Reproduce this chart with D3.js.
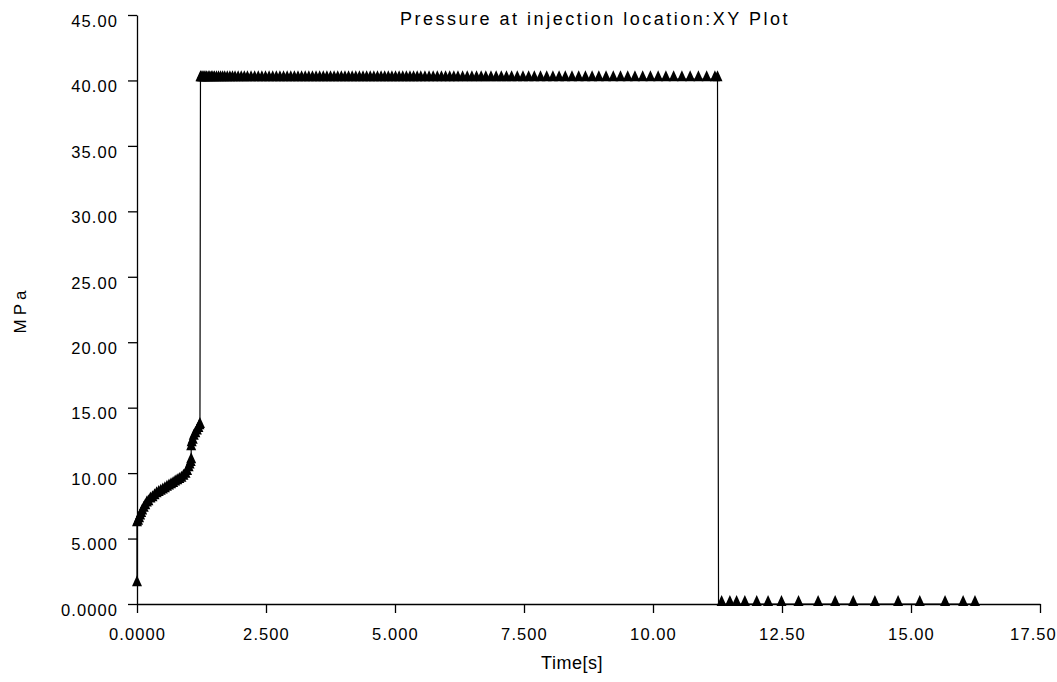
<!DOCTYPE html>
<html>
    <head>
        <meta charset="utf-8">
        <title>Pressure at injection location:XY Plot</title>
        <style>
            body { margin: 0; background: #fff; }
            text { font-family: 'Liberation Sans', Arial, sans-serif; fill: #000; }
            .tick text { font-size: 16.5px; letter-spacing: 1.1px; }
        </style>
        <script src="https://d3js.org/d3.v7.min.js"></script>
    </head>
    <body>
        <div id="chart"></div>
        <script>
            // filling ramp before switch-over
            var fillTimes = [0.00, 0.00, 0.02, 0.04, 0.06, 0.08, 0.10, 0.13, 0.16, 0.19, 0.22, 0.26, 0.30, 0.34, 0.38, 0.42, 0.46, 0.50, 0.54, 0.58, 0.62, 0.66, 0.70, 0.74, 0.78, 0.82, 0.86, 0.90, 0.94, 0.97, 1.00, 1.02, 1.04,
                             1.05, 1.05, 1.06, 1.08, 1.10, 1.13, 1.16, 1.19, 1.21, 1.22];
            var fillPressure = [1.5, 6.1, 6.2, 6.4, 6.6, 6.8, 7.0, 7.2, 7.4, 7.6, 7.7, 7.9, 8.0, 8.15, 8.3, 8.4, 8.5, 8.6, 8.7, 8.8, 8.9, 9.0, 9.1, 9.2, 9.3, 9.4, 9.5, 9.65, 9.8, 10.0, 10.3, 10.5, 10.7,
                                10.9, 11.9, 12.2, 12.4, 12.7, 12.9, 13.1, 13.3, 13.5, 13.6];
            // packing / holding plateau
            var holdTimes = [1.23, 1.24, 1.26, 1.28, 1.30, 1.32, 1.35, 1.38, 1.41, 1.44, 1.47, 1.50, 1.54, 1.58, 1.62, 1.66, 1.70, 1.75, 1.80, 1.85, 1.90, 1.96, 2.02, 2.08, 2.14, 2.21, 2.28, 2.35, 2.42, 2.49,
                             2.56, 2.63, 2.70, 2.77, 2.84, 2.91, 2.98, 3.05, 3.12, 3.19, 3.26, 3.33, 3.40, 3.47, 3.54, 3.61, 3.68, 3.75, 3.82, 3.89, 3.96, 4.03, 4.10, 4.17, 4.24, 4.31, 4.38, 4.45,
                             4.52, 4.59, 4.66, 4.73, 4.80, 4.87, 4.94, 5.01, 5.08, 5.15, 5.22, 5.29, 5.36, 5.43, 5.50, 5.58, 5.66, 5.74, 5.82, 5.90, 5.98, 6.06, 6.14, 6.22, 6.31, 6.40, 6.49, 6.58,
                             6.67, 6.76, 6.86, 6.96, 7.06, 7.16, 7.26, 7.37, 7.48, 7.59, 7.70, 7.82, 7.94, 8.06, 8.18, 8.30, 8.43, 8.56, 8.69, 8.82, 8.95, 9.09, 9.23, 9.37, 9.51, 9.65, 9.80, 9.95,
                             10.10, 10.25, 10.40, 10.56, 10.72, 10.88, 11.04, 11.20, 11.25];
            var holdPressure = 40.1;
            // after release
            var coolTimes = [11.27, 11.33, 11.49, 11.62, 11.78, 12.01, 12.23, 12.49, 12.82, 13.20, 13.53, 13.88, 14.30, 14.75, 15.17, 15.66, 16.01, 16.24];
            var coolPressure = 0.0;

            var xTicks = [0, 2.5, 5, 7.5, 10, 12.5, 15, 17.5];
            var xTickLabels = ["0.0000", "2.500", "5.000", "7.500", "10.00", "12.50", "15.00", "17.50"];
            var yTicks = [0, 5, 10, 15, 20, 25, 30, 35, 40, 45];
            var yTickLabels = ["0.0000", "5.000", "10.00", "15.00", "20.00", "25.00", "30.00", "35.00", "40.00", "45.00"];

            function draw() {
                var points = [];
                fillTimes.forEach((t, i) => points.push({t: t, p: fillPressure[i], marker: true}));
                holdTimes.forEach(t => points.push({t: t, p: holdPressure, marker: true}));
                coolTimes.forEach((t, i) => points.push({t: t, p: coolPressure, marker: i > 0}));

                var width = 1057, height = 682;
                var plotLeft = 137, plotRight = 1040, plotTop = 15, plotBottom = 604;

                var svg = d3.select("#chart").append("svg")
                    .attr("width", width)
                    .attr("height", height);
                svg.append("rect").attr("width", width).attr("height", height).attr("fill", "#fff");

                var x = d3.scaleLinear().domain([0, 17.5]).range([plotLeft, plotRight]);
                var y = d3.scaleLinear().domain([0, 45]).range([plotBottom, plotTop]);

                var xAxis = svg.append("g")
                    .attr("transform", "translate(0," + plotBottom + ")")
                    .call(d3.axisBottom(x).tickValues(xTicks).tickSize(9).tickSizeOuter(0).tickPadding(15)
                        .tickFormat((d, i) => xTickLabels[i]));
                // last label is pulled in so it stays inside the frame
                xAxis.selectAll(".tick text").filter(d => d === 17.5).attr("dx", -7);
                var yAxis = svg.append("g")
                    .attr("transform", "translate(" + plotLeft + ",0)")
                    .call(d3.axisLeft(y).tickValues(yTicks).tickSize(9).tickSizeOuter(0).tickPadding(10)
                        .tickFormat((d, i) => yTickLabels[i]));
                yAxis.selectAll(".tick text").attr("dy", "0.32em").attr("transform", "translate(0,6)");
                svg.selectAll(".domain, .tick line").attr("stroke", "#000").attr("stroke-width", 1.3);

                var line = d3.line().x(d => x(d.t)).y(d => y(d.p));
                svg.append("path")
                    .datum(points)
                    .attr("d", line)
                    .attr("fill", "none")
                    .attr("stroke", "#000")
                    .attr("stroke-width", 1.2);

                // triangle markers, base sitting just under the data point
                svg.append("g").selectAll("path")
                    .data(points.filter(d => d.marker))
                    .join("path")
                    .attr("d", d => {
                        var cx = x(d.t), cy = y(d.p);
                        return "M" + (cx - 5) + "," + (cy + 2) + "L" + cx + "," + (cy - 9) + "L" + (cx + 5) + "," + (cy + 2) + "Z";
                    })
                    .attr("fill", "#000");

                svg.append("text")
                    .attr("x", 595)
                    .attr("y", 25)
                    .attr("text-anchor", "middle")
                    .style("font-size", "18px")
                    .style("letter-spacing", "2.5px")
                    .text("Pressure at injection location:XY Plot");

                svg.append("text")
                    .attr("transform", "translate(26,310) rotate(-90)")
                    .attr("text-anchor", "middle")
                    .style("font-size", "17px")
                    .style("letter-spacing", "4px")
                    .text("MPa");

                svg.append("text")
                    .attr("x", 572)
                    .attr("y", 669)
                    .attr("text-anchor", "middle")
                    .style("font-size", "18px")
                    .style("letter-spacing", "0.5px")
                    .text("Time[s]");
            }

            draw();
        </script>
    </body>
</html>
